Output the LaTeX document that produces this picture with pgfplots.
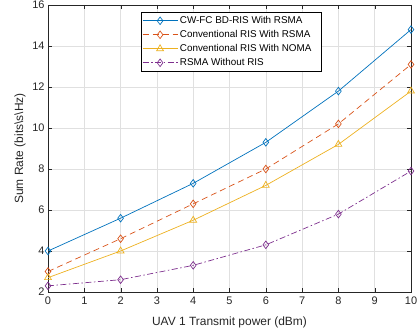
\documentclass[border=0pt]{standalone}
\usepackage{pgfplots}
\pgfplotsset{compat=1.18}
\usepackage{fontspec}
\setmainfont{Liberation Sans}
\definecolor{mblue}{rgb}{0,0.447,0.741}
\definecolor{morange}{rgb}{0.85,0.325,0.098}
\definecolor{myellow}{rgb}{0.929,0.694,0.125}
\definecolor{mpurple}{rgb}{0.494,0.184,0.556}
\begin{document}
\begin{tikzpicture}
\begin{axis}[
  name=ax,
  scale only axis,
  width=363bp, height=287bp,
  xmin=0, xmax=10, ymin=2, ymax=16,
  xtick={0,1,...,10}, ytick={2,4,...,16},
  grid=major,
  grid style={color=black!12, line width=0.5pt},
  axis line style={color=black!85, line width=0.6pt},
  tick style={color=black!85},
  tick align=inside,
  major tick length=4bp,
  /pgf/number format/assume math mode=true,
  tick label style={font=\fontsize{11}{13}\selectfont, color=black!85},
  xticklabel style={yshift=-1.5bp},
  label style={font=\fontsize{12}{14}\selectfont, color=black!85},
  xlabel={UAV 1 Transmit power (dBm)},
  ylabel={Sum Rate (bits\textbackslash s\textbackslash Hz)},
  xlabel style={at={(axis description cs:0.5,-0.1045)}, anchor=center},
  ylabel style={at={(axis description cs:-0.0771,0.5)}, anchor=center},
  legend style={at={(0.256,0.9756)}, anchor=north west,
    font=\fontsize{9.9}{11}\selectfont, draw=black, line width=0.6pt,
    nodes={text height=7.5bp, text depth=2bp, inner ysep=2.25bp},
    inner xsep=1bp, inner ysep=1.5bp},
  legend cell align=left,
  legend image code/.code={\draw[mark repeat=2,mark phase=2] plot coordinates {(0bp,0bp) (17.5bp,0bp) (35bp,0bp)};},
  every axis plot/.append style={line width=0.7pt},
]
\addplot[color=mblue, mark=diamond, mark size=3.8bp, mark options={solid}] coordinates {(0,4.0)(2,5.6)(4,7.3)(6,9.3)(8,11.8)(10,14.8)};
\addlegendentry{\makebox[138bp][l]{CW-FC BD-RIS With RSMA}}
\addplot[color=morange, dash pattern=on 6bp off 4bp, mark=diamond, mark size=3.8bp, mark options={solid}] coordinates {(0,3.0)(2,4.6)(4,6.3)(6,8.0)(8,10.2)(10,13.1)};
\addlegendentry{\makebox[138bp][l]{Conventional RIS With RSMA}}
\addplot[color=myellow, mark=triangle, mark size=4bp, mark options={solid}] coordinates {(0,2.7)(2,4.0)(4,5.5)(6,7.2)(8,9.2)(10,11.8)};
\addlegendentry{\makebox[138bp][l]{Conventional RIS With NOMA}}
\addplot[color=mpurple, dash pattern=on 6bp off 2.5bp on 1.5bp off 2.5bp, mark=diamond, mark size=3.8bp, mark options={solid}] coordinates {(0,2.3)(2,2.6)(4,3.3)(6,4.3)(8,5.8)(10,7.9)};
\addlegendentry{\makebox[138bp][l]{RSMA Without RIS}}
\end{axis}
\pgfresetboundingbox
\useasboundingbox ([xshift=-48bp,yshift=-43bp]ax.south west) rectangle ([xshift=8bp,yshift=5bp]ax.north east);
\end{tikzpicture}
\end{document}
